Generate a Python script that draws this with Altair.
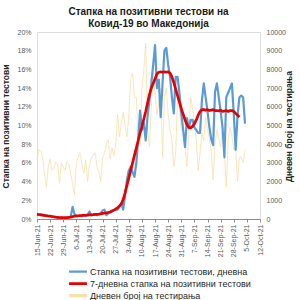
import altair as alt
import pandas as pd

start = "2021-06-15"
# daily positivity rate (%), 15-Jun-21 .. 4-Oct-21
daily_rate = [0.5, 0.45, 0.5, 0.4, 0.35, 0.4, 0.3, 0.3, 0.25, 0.2,
              0.2, 0.15, 0.1, 0.15, 0.1, 0.1, 0.15, 0.2, 0.3, 1.3,
              0.5, 0.3, 0.3, 0.35, 0.3, 0.35, 0.3, 0.5, 0.8, 0.4,
              0.45, 0.5, 0.4, 0.5, 0.6, 0.9, 1.0, 0.4, 0.6, 0.7,
              0.8, 0.9, 1.1, 1.0, 1.3, 1.7, 1.0, 2.5, 4.2, 5.2,
              5.6, 5.0, 4.5, 6.0, 8.5, 11.6, 9.5, 10.3, 8.4, 11.0,
              12.7, 14.5, 16.5, 18.6, 14.0, 14.9, 10.9, 14.5, 18.0, 18.3,
              16.5, 15.2, 13.0, 11.3, 15.2, 15.2, 13.5, 11.3, 9.5, 7.7,
              10.8, 9.7, 10.6, 10.6, 9.8, 9.5, 9.2, 9.2, 12.7, 14.5,
              13.0, 11.5, 9.8, 8.5, 7.9, 13.6, 14.5, 13.0, 11.5, 9.8,
              6.6, 13.0, 13.5, 14.0, 14.5, 11.3, 7.4, 11.0, 13.0, 13.2,
              13.0, 10.2]
# 7-day positivity rate (%), 15-Jun-21 .. 2-Oct-21
rate_7d = [0.5, 0.48, 0.45, 0.42, 0.38, 0.35, 0.32, 0.3, 0.27, 0.24,
           0.2, 0.18, 0.16, 0.15, 0.15, 0.15, 0.15, 0.17, 0.2, 0.25,
           0.3, 0.33, 0.35, 0.37, 0.38, 0.4, 0.4, 0.42, 0.45, 0.45,
           0.47, 0.5, 0.5, 0.52, 0.55, 0.6, 0.62, 0.65, 0.7, 0.75,
           0.85, 0.95, 1.05, 1.2, 1.4, 1.6, 2.1, 2.8, 3.6, 4.4,
           5.2, 6.0, 6.8, 7.6, 8.4, 9.2, 9.9, 10.7, 11.5, 12.4,
           13.3, 14.0, 14.5, 15.0, 15.5, 15.7, 15.75, 15.7, 15.75, 15.7,
           15.75, 15.6, 15.2, 14.6, 13.9, 13.2, 12.5, 11.8, 11.2, 10.6,
           10.1, 9.8, 9.75, 9.9, 10.2, 10.6, 11.1, 11.5, 11.7, 11.7,
           11.65, 11.7, 11.6, 11.65, 11.7, 11.6, 11.6, 11.55, 11.65, 11.5,
           11.55, 11.6, 11.5, 11.6, 11.6, 11.5, 11.3, 11.1, 10.9]
# daily number of tests, 15-Jun-21 .. 4-Oct-21
tests = [3150, 3700, 3600, 3300, 2400, 1700, 2800, 3200, 2600, 2700,
         3050, 2900, 1900, 3000, 2800, 2600, 3050, 2900, 2400, 1900,
         1300, 3000, 3300, 3550, 2900, 2450, 3150, 2000, 2900, 3300,
         3400, 3550, 2800, 2500, 2000, 3300, 3500, 4000, 4250, 3200,
         3800, 3400, 3900, 5600, 4400, 5100, 5700, 5000, 4400, 5500,
         7500, 7800, 6500, 6500, 4200, 4000, 7000, 8000, 9400, 4800,
         3850, 6000, 7800, 6700, 5600, 6200, 7000, 3300, 6500, 7000,
         5600, 4800, 4200, 2800, 3500, 6500, 6000, 4700, 4800, 3800,
         2800, 4600, 6500, 6000, 5000, 4200, 2600, 3500, 4600, 4200,
         5450, 4800, 4300, 3600, 2100, 4000, 4760, 4300, 3850, 4900,
         3600, 1700, 4200, 4900, 4500, 3700, 3800, 2000, 3300, 3300,
         3000, 3700]

s_daily = "Стапка на позитивни тестови, дневна"
s_7d = "7-дневна стапка на позитивни тестови"
s_tests = "Дневен број на тестирања"

def frame(vals, name, col):
    d = pd.date_range(start, periods=len(vals), freq="D")
    return pd.DataFrame({"date": d.strftime("%Y-%m-%dT00:00:00"), col: vals, "series": name})

df_daily = frame([v / 100 for v in daily_rate], s_daily, "rate")
df_7d = frame([v / 100 for v in rate_7d], s_7d, "rate")
df_tests = frame(tests, s_tests, "tests")

tick_dates = pd.date_range("2021-06-15", "2021-10-12", freq="7D")
tick_vals = [alt.DateTime(year=t.year, month=t.month, date=t.day) for t in tick_dates]

series_domain = [s_daily, s_7d, s_tests]
color_scale = alt.Scale(domain=series_domain, range=["#5b9bd5", "#e60000", "#f7e0aa"])
width_scale = alt.Scale(domain=series_domain, range=[2.2, 3.2, 0.8])

x_enc = alt.X(
    "date:T",
    scale=alt.Scale(domain=[alt.DateTime(year=2021, month=6, date=15),
                            alt.DateTime(year=2021, month=10, date=12)]),
    axis=alt.Axis(values=tick_vals, format="%-d-%b-%y", labelAngle=270,
                  labelFontSize=7, labelColor="#595959", grid=False,
                  domainColor="#8c8c8c", tickColor="#8c8c8c", tickSize=3,
                  labelPadding=2, title=None, labelFont="Liberation Sans"),
)

legend = alt.Legend(title=None, orient="none", legendX=30, legendY=234,
                    symbolType="stroke", symbolSize=320, labelFontSize=9,
                    labelColor="#262626", labelFont="Liberation Sans",
                    rowPadding=0, clipHeight=11.3, labelLimit=300,
                    labelOffset=1, padding=0)

color_enc = alt.Color("series:N", scale=color_scale, legend=legend)
sw_enc = alt.StrokeWidth("series:N", scale=width_scale, legend=legend)

yellow = alt.Chart(df_tests).mark_line(strokeJoin="round", strokeWidth=0.8).encode(
    x=x_enc,
    y=alt.Y("tests:Q", scale=alt.Scale(domain=[0, 10000]),
            axis=alt.Axis(orient="right", values=list(range(0, 10001, 1000)),
                          format="d",
                          title=s_tests, titleAngle=270, titleX=33, titleY=94,
                          titleFontSize=8.5, titleFont="Liberation Sans",
                          titleColor="#262626", labelFontSize=7,
                          labelColor="#595959", labelFont="Liberation Sans",
                          grid=False, domain=False, ticks=False, labelPadding=6)),
    color=color_enc,
)

y_left = alt.Y("rate:Q", scale=alt.Scale(domain=[0, 0.2]),
               axis=alt.Axis(orient="left", format=".0%", values=[i / 50 for i in range(11)],
                             title="Стапка на позитивни тестови", titleAngle=270,
                             titleX=-27, titleY=94, titleFontSize=8.5,
                             titleFont="Liberation Sans", titleColor="#262626",
                             labelFontSize=7, labelColor="#595959",
                             labelFont="Liberation Sans", gridColor="#d9d9d9",
                             domain=False, ticks=False, labelPadding=6))

blue = alt.Chart(df_daily).mark_line(strokeJoin="round").encode(
    x=x_enc, y=y_left, color=color_enc, strokeWidth=sw_enc)
red = alt.Chart(df_7d).mark_line(strokeJoin="round").encode(
    x=x_enc, y=y_left, color=color_enc, strokeWidth=sw_enc)

chart = alt.layer(yellow, alt.layer(blue, red)).resolve_scale(y="independent").properties(
    width=223, height=187,
    padding={"left": 37, "top": 32, "right": 40, "bottom": 81},
    autosize=alt.AutoSizeParams(type="none"),
    title=alt.Title(["Стапка на позитивни тестови на", "Ковид-19 во Македонија"],
                    fontSize=10, font="Liberation Sans", fontWeight="bold",
                    color="#1a1a1a", anchor="middle", offset=-1, lineHeight=12),
).configure_view(fill="#f2f2f2", stroke="#8c8c8c", strokeWidth=1.2).configure(
    background="white")

chart.save("out.html", embed_options={"renderer": "svg", "actions": False})
